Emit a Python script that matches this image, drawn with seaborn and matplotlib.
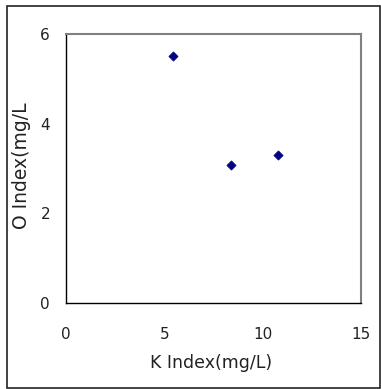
import matplotlib
matplotlib.use("Agg")
import matplotlib.pyplot as plt
import seaborn as sns
import pandas as pd
from matplotlib.patches import Rectangle

k_index = [5.46, 8.39, 10.78]
o_index = [5.52, 3.08, 3.29]
x_ticks = [0, 5, 10, 15]
y_ticks = [0, 2, 4, 6]

df = pd.DataFrame({"K": k_index, "O": o_index})

sns.set_theme(style="white")
plt.rcParams['font.family'] = ['DejaVu Sans']

fig = plt.figure(figsize=(3.81, 3.89), dpi=100)
ax = fig.add_axes([66/381, (389-303)/389, (361-66)/381, (303-34)/389])

sns.scatterplot(data=df, x="K", y="O", ax=ax, marker="D", s=22,
                color="#000080", edgecolor="#000080", linewidth=0.5)

ax.set_xlim(0, 15)
ax.set_ylim(0, 6)
ax.set_xticks(x_ticks)
ax.set_yticks(y_ticks)
ax.set_xticklabels([str(v) for v in x_ticks])
ax.set_yticklabels([str(v) for v in y_ticks])
ax.tick_params(axis='x', direction='in', length=4, width=1, color='black',
               labelsize=11, pad=17, labelcolor='#222222')
ax.tick_params(axis='y', direction='in', length=4, width=1, color='black',
               labelsize=11, pad=11.5, labelcolor='#222222')
ax.set_xlabel("K Index(mg/L)", fontsize=12.5, color='#222222')
ax.set_ylabel("O Index(mg/L", fontsize=13.5, color='#222222')
ax.xaxis.set_label_coords(0.493, -0.19)
ax.yaxis.set_label_coords(-0.12, 0.51)

for s in ['left', 'bottom']:
    ax.spines[s].set_color('black')
    ax.spines[s].set_linewidth(1.0)
for s in ['top', 'right']:
    ax.spines[s].set_color('#808080')
    ax.spines[s].set_linewidth(1.5)
    ax.spines[s].set_visible(True)

fig.patches.append(Rectangle((7/381, 1.5/389), (380-7)/381, (383.3-1.5)/389,
                             transform=fig.transFigure, fill=False,
                             edgecolor='#222222', linewidth=1.2))

fig.savefig("out.png", dpi=100)
